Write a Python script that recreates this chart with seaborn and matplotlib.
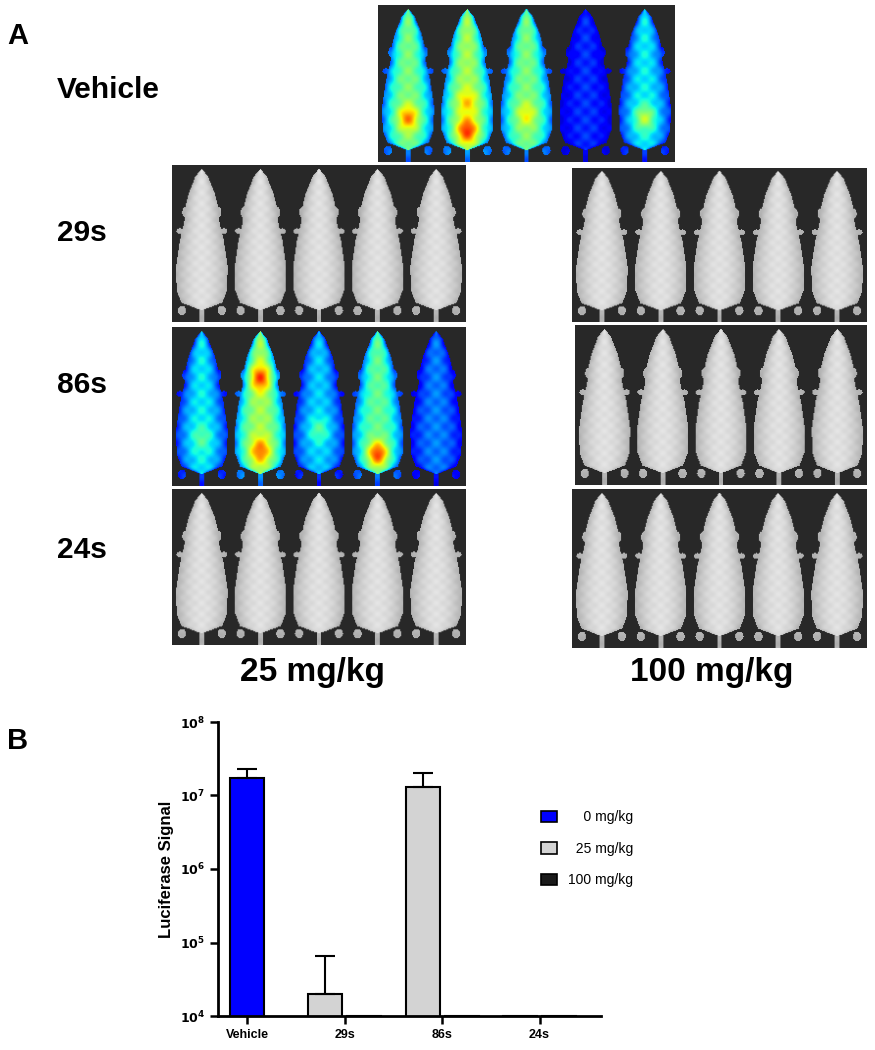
import numpy as np
import pandas as pd
import matplotlib
matplotlib.use('Agg')
import matplotlib.pyplot as plt
import seaborn as sns
from matplotlib.patches import Patch
from matplotlib.ticker import NullLocator

sns.set_style('ticks')
plt.rcParams['font.family'] = ['Liberation Sans', 'DejaVu Sans']
for key in ['text.color', 'axes.labelcolor', 'xtick.color', 'ytick.color', 'axes.edgecolor']:
    plt.rcParams[key] = 'black'

#################
## Panel B data ##
#################

groups = ['Vehicle', '29s', '86s', '24s']
treat_groups = ['29s', '86s', '24s']
dose_labels = ['0 mg/kg', '25 mg/kg', '100 mg/kg']
dose_colors = ['#0000ff', '#d3d3d3', '#1a1a1a']

vehicle_signal = [1.75e7]
vehicle_upper = [2.32e7]
signal_25 = [2.0e4, 1.31e7, 1.0e4]
upper_25 = [6.5e4, 2.03e7, np.nan]
signal_100 = [1.0e4, 1.0e4, 1.0e4]   # no detectable signal

ytick_vals = [1e4, 1e5, 1e6, 1e7, 1e8]
ytick_labels = [r'$\mathbf{10^{4}}$', r'$\mathbf{10^{5}}$', r'$\mathbf{10^{6}}$',
                r'$\mathbf{10^{7}}$', r'$\mathbf{10^{8}}$']

#################
## Panel A data ##
#################

row_labels = ['Vehicle', '29s', '86s', '24s']
col_labels = ['25 mg/kg', '100 mg/kg']

# relative bioluminescence per mouse (only for imaged signal panels)
vehicle_levels = [0.50, 0.55, 0.50, 0.17, 0.36]
vehicle_spots = [(0, 0.72, 0.28), (1, 0.8, 0.32), (1, 0.62, 0.15), (2, 0.7, 0.15), (4, 0.72, 0.22)]
s86_levels = [0.36, 0.55, 0.33, 0.47, 0.25]
s86_spots = [(1, 0.32, 0.3), (1, 0.78, 0.25), (3, 0.8, 0.38), (2, 0.65, 0.12), (0, 0.7, 0.1)]

# mouse outline: half-width along the body (top = snout)
body_v = [0.02, 0.07, 0.18, 0.28, 0.36, 0.48, 0.65, 0.8, 0.88, 0.93]
body_a = [0.0, 0.022, 0.045, 0.058, 0.06, 0.075, 0.088, 0.086, 0.07, 0.0]


def mice_image(levels=None, spots=(), w=300, h=160, n=5):
    u = np.linspace(0, 1, w)[None, :]
    v = np.linspace(0, 1, h)[:, None]
    img = np.ones((h, w, 3)) * 0.16
    cmap = plt.get_cmap('jet')
    a = np.interp(v, body_v, body_a) + 1e-6
    for i in range(n):
        cx = (i + 0.5) / n
        body = (np.abs(u - cx) < a) & (v > 0.02) & (v < 0.93)
        ears = (((np.abs(u - cx) - 0.055) / 0.012) ** 2 + ((v - 0.3) / 0.035) ** 2) < 1
        paws = (((np.abs(u - cx) - 0.075) / 0.012) ** 2 + ((v - 0.42) / 0.018) ** 2) < 1
        feet = (((np.abs(u - cx) - 0.068) / 0.014) ** 2 + ((v - 0.93) / 0.03) ** 2) < 1
        tail = (np.abs(u - cx) < 0.008) & (v >= 0.9)
        d = np.clip(np.abs(u - cx) / a, 0, 1)
        mask = body | ears | paws | feet | tail
        d = np.where(body, d, 1.0)
        if levels is None:
            val = 0.88 - 0.18 * d ** 2 - 0.02 * np.cos(90 * v) * np.cos(140 * (u - cx))
            col = np.repeat(val[..., None], 3, axis=2)
        else:
            val = levels[i] * (1 - 0.55 * d ** 2) + 0.03 * np.cos(60 * v) * np.cos(110 * (u - cx))
            for (m, vh, amp) in spots:
                if m == i:
                    val = val + amp * np.exp(-((v - vh) ** 2 / 0.006 + (u - cx) ** 2 / 0.0012))
            col = cmap(np.clip(val, 0.08, 1))[..., :3]
        img[mask] = col[mask]
    return img


panels = {
    'vehicle': ((378, 5, 675, 162), mice_image(vehicle_levels, vehicle_spots)),
    '29s_25': ((172, 165, 466, 322), mice_image()),
    '29s_100': ((572, 168, 867, 322), mice_image()),
    '86s_25': ((172, 327, 466, 486), mice_image(s86_levels, s86_spots)),
    '86s_100': ((575, 325, 867, 485), mice_image()),
    '24s_25': ((172, 489, 466, 645), mice_image()),
    '24s_100': ((572, 489, 867, 648), mice_image()),
}

W, H = 875, 1050
fig = plt.figure(figsize=(W / 100, H / 100), dpi=100)

for name, (rect, img) in panels.items():
    x0, y0, x1, y1 = rect
    iax = fig.add_axes([x0 / W, 1 - y1 / H, (x1 - x0) / W, (y1 - y0) / H])
    iax.imshow(img, aspect='auto')
    iax.set_axis_off()

fig.text(7 / W, 1 - 36 / H, 'A', fontsize=21, fontweight='bold', va='center')
fig.text(7 / W, 1 - 741 / H, 'B', fontsize=21, fontweight='bold', va='center')
for lab, yy in zip(row_labels, [90, 233, 385, 550]):
    fig.text(57 / W, 1 - yy / H, lab, fontsize=21.5, fontweight='bold', va='center')
for lab, xx in zip(col_labels, [312, 712]):
    fig.text(xx / W, 1 - 672 / H, lab, fontsize=24, fontweight='bold', ha='center', va='center')

#####################
## Bar chart (B)   ##
#####################

ax = fig.add_axes([218 / W, 34 / H, (601 - 218) / W, (1016 - 722) / H])

veh_df = pd.DataFrame({'group': ['Vehicle'], 'signal': vehicle_signal})
treat_df = pd.DataFrame({
    'group': treat_groups * 2,
    'dose': [dose_labels[1]] * 3 + [dose_labels[2]] * 3,
    'signal': signal_25 + signal_100,
})

sns.barplot(data=veh_df, x='group', y='signal', order=groups, color=dose_colors[0],
            width=0.35, edgecolor='black', linewidth=1.5, errorbar=None, ax=ax, saturation=1)
sns.barplot(data=treat_df, x='group', y='signal', hue='dose', order=groups,
            hue_order=dose_labels[1:], palette=dose_colors[1:], width=0.8, gap=0.13,
            dodge=True, edgecolor='black', linewidth=1.5, errorbar=None, ax=ax,
            saturation=1, legend=False)

ax.set_yscale('log')

# upper error bars only
bar_sets = [(ax.containers[0], vehicle_signal, vehicle_upper),
            (ax.containers[1], signal_25, upper_25)]
for cont, means, uppers in bar_sets:
    for bar, m, up in zip(cont, means, uppers):
        if np.isnan(up):
            continue
        xc = bar.get_x() + bar.get_width() / 2
        ax.errorbar(xc, m, yerr=[[0], [up - m]], fmt='none', ecolor='black',
                    elinewidth=1.5, capsize=7, capthick=1.5, zorder=1)

ax.set_ylim(1e4, 1e8)
ax.set_xlim(-0.30, 3.63)
ax.set_yticks(ytick_vals)
ax.set_yticklabels(ytick_labels)
ax.yaxis.set_minor_locator(NullLocator())
ax.set_xlabel('')
ax.set_ylabel('Luciferase Signal', fontsize=12, fontweight='bold', labelpad=4)
for lbl in ax.get_xticklabels():
    lbl.set_fontweight('bold')
ax.tick_params(axis='both', labelsize=9, width=1.8, length=6)
for s in ['left', 'bottom']:
    ax.spines[s].set_linewidth(2)
sns.despine(ax=ax)

handles = [Patch(facecolor=c, edgecolor='black', linewidth=1.2) for c in dose_colors]
legend_labels = ['\u2007\u20070 mg/kg', '\u200725 mg/kg', '100 mg/kg']
fig.legend(handles, legend_labels, loc='upper left', bbox_to_anchor=(528 / W, 1 - 798 / H),
           frameon=False, fontsize=10, handlelength=1.2, handleheight=0.9,
           labelspacing=1.25, handletextpad=0.8)

fig.savefig('out.png', dpi=100)
